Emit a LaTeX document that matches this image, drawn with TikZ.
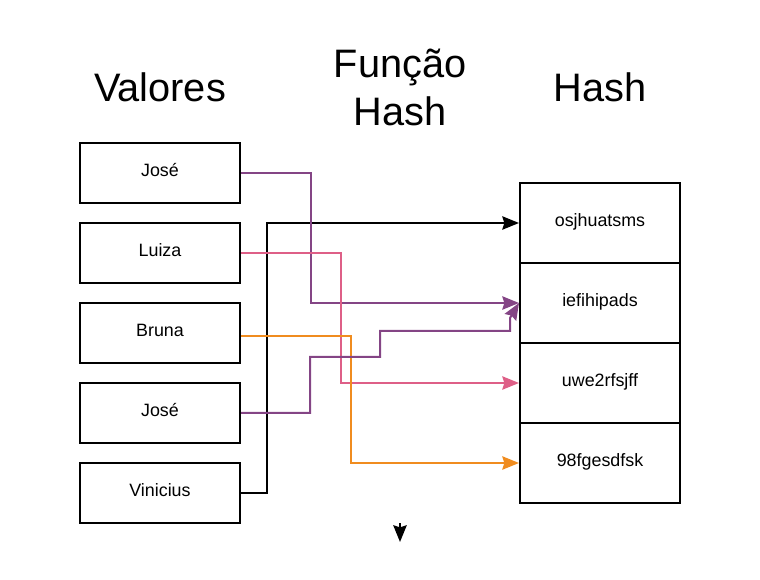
\documentclass[tikz,border=0pt]{standalone}
\usepackage{fontspec}
\setmainfont{Liberation Sans}
\usetikzlibrary{arrows.meta}
\definecolor{cpurple}{HTML}{844585}
\definecolor{cpink}{HTML}{DE5F87}
\definecolor{corange}{HTML}{F08C1F}
\tikzset{
  boxtext/.style={font=\fontsize{13.4pt}{16pt}\selectfont, text height=9.5pt, text depth=4.3pt},
  valbox/.style={draw=black, line width=1.5pt, minimum width=120pt, minimum height=45pt, inner sep=0pt, boxtext},
  hashbox/.style={draw=black, line width=1.5pt, minimum width=120pt, minimum height=60pt, inner sep=0pt, boxtext},
  heading/.style={anchor=base, inner sep=0pt, font=\fontsize{29.8pt}{36pt}\selectfont},
  conn/.style={line width=1.5pt, -{Stealth[length=12.5pt, width=10pt, inset=1.5pt]}},
}
\begin{document}
\begin{tikzpicture}[x=0.75pt, y=-0.75pt]
\useasboundingbox (0,0) rectangle (760,580);
% headings
\node[heading] (tval) at (160,102) {Valores};
\node[heading] (tfun1) at (400,78) {Função};
\node[heading] (tfun2) at (400,126) {Hash};
\node[heading] (thash) at (600,102) {Hash};
% value boxes
\node[valbox] (v1) at (160,173) {José};
\node[valbox] (v2) at (160,253) {Luiza};
\node[valbox] (v3) at (160,333) {Bruna};
\node[valbox] (v4) at (160,413) {José};
\node[valbox] (v5) at (160,493) {Vinicius};
% hash boxes
\node[hashbox] (h1) at (600,223) {osjhuatsms};
\node[hashbox] (h2) at (600,303) {iefihipads};
\node[hashbox] (h3) at (600,383) {uwe2rfsjff};
\node[hashbox] (h4) at (600,463) {98fgesdfsk};
% connectors
\draw[conn, black] (v5.east) -- ++(26,0) |- (h1.west);
\draw[conn, cpurple] (v1.east) -- ++(70,0) |- (h2.west);
\draw[conn, cpink] (v2.east) -- ++(100,0) |- (h3.west);
\draw[conn, corange] ([yshift=-2.25pt]v3.east) -- ++(110,0) |- (h4.west);
\draw[conn, cpurple] (v4.east) -- (310,413) -- (310,357) -- (380,357) -- (380,331) -- (510,331) -- (510,318) -- (h2.west);
% stray arrow below
\coordinate (fa) at (400,523);
\coordinate (fb) at (400,542);
\draw[conn, black] (fa) -- (fb);
\end{tikzpicture}
\end{document}
